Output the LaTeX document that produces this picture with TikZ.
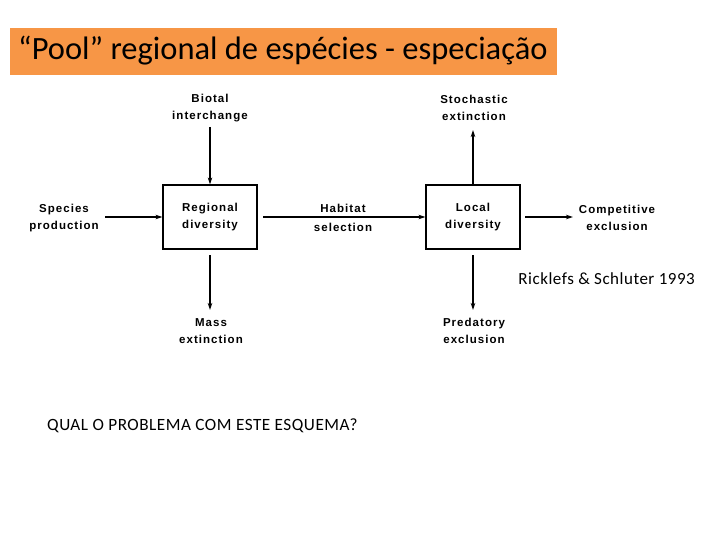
\documentclass[tikz,border=0pt]{standalone}
\usepackage{fontspec}
\setmainfont{Carlito}
\newfontfamily\diag[LetterSpace=9,BoldFont={Liberation Sans Bold}]{Liberation Sans}
\newfontfamily\slide[LetterSpace=3]{Carlito}
\usetikzlibrary{arrows.meta}
\definecolor{titleorange}{HTML}{F79646}
\begin{document}
\begin{tikzpicture}[x=1pt,y=-1pt,
  lbl/.style={font=\diag\bfseries\fontsize{11.5}{16.5}\selectfont,align=center,inner sep=0pt},
  dbox/.style={draw,line width=1.2pt,minimum width=94pt,minimum height=64pt,font=\diag\bfseries\fontsize{11.5}{16.5}\selectfont,align=center},
  arr/.style={line width=1.3pt,-{Stealth[length=7pt,width=4.5pt]}}]
\useasboundingbox (0,0) rectangle (720,540);
\fill[titleorange] (10,28) rectangle (557,75);
\node[anchor=west,font=\fontsize{32.5}{36}\selectfont,inner sep=0pt] (title) at (18,51) {“Pool” regional de espécies - especiação};
\node[dbox] (reg) at (210,217) {Regional\\diversity};
\node[dbox] (loc) at (473,217) {Local\\diversity};
\node[lbl] (biotal) at (210,108) {Biotal\\interchange};
\node[lbl] (spec) at (64,218) {Species\\production};
\node[lbl] (hab) at (343,218) {Habitat\\[2pt]selection};
\node[lbl] (stoch) at (474,108) {Stochastic\\extinction};
\node[lbl] (comp) at (617,218) {Competitive\\exclusion};
\node[lbl] (mass) at (211,331) {Mass\\extinction};
\node[lbl] (pred) at (474,331) {Predatory\\exclusion};
\coordinate (specE) at (105,217);
\coordinate (habL) at (263,217);
\coordinate (compA) at (525,217);
\draw[arr] (210,127) -- (reg.north);
\draw[arr] (specE) -- (reg.west);
\draw[arr] (habL) -- (loc.west);
\draw[arr] (loc.north) -- (473,130);
\draw[arr] (compA) -- (573,217);
\draw[arr] (210,255) -- (210,310);
\draw[arr] (473,255) -- (473,310);
\node[anchor=east,font=\slide\fontsize{17}{18}\selectfont,inner sep=0pt] (cite) at (695,279) {Ricklefs \& Schluter 1993};
\node[anchor=west,font=\slide\fontsize{17.2}{18}\selectfont,inner sep=0pt] (q) at (47,426) {QUAL O PROBLEMA COM ESTE ESQUEMA?};
\end{tikzpicture}
\end{document}
